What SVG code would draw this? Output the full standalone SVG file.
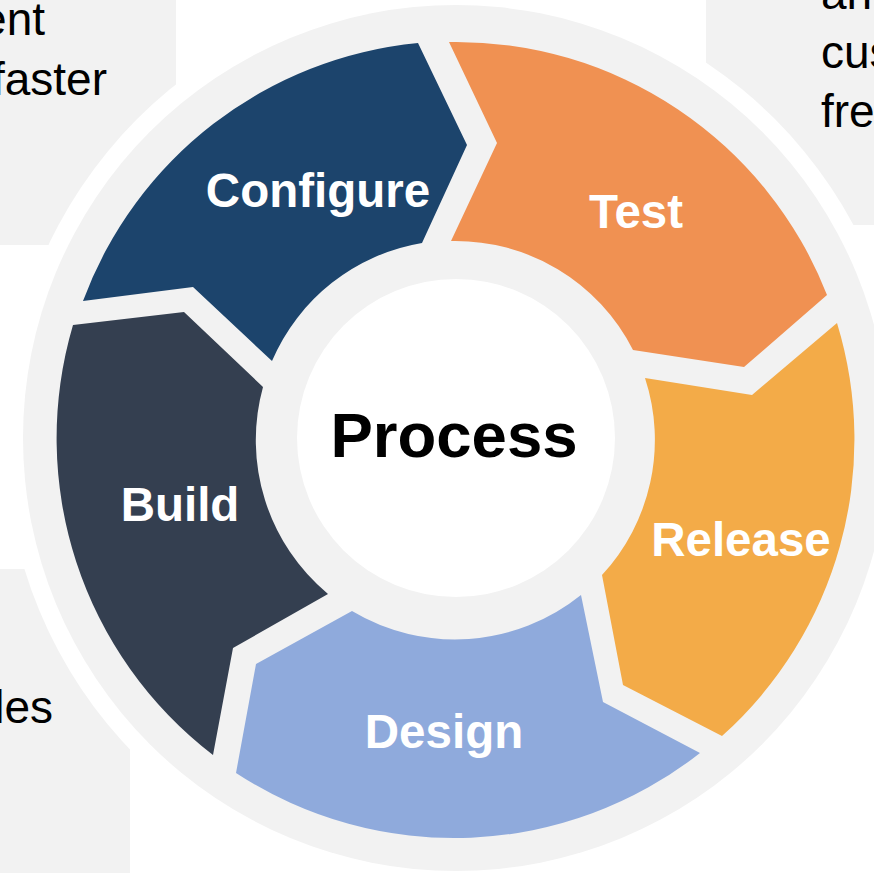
<svg xmlns="http://www.w3.org/2000/svg" width="874" height="873" viewBox="0 0 874 873">
  <style>
    .box { fill: #F2F2F2; }
    .side { font-family: "Liberation Sans", Arial, sans-serif; font-size: 46px; fill: #000000; }
    .lbl { font-family: "Liberation Sans", Arial, sans-serif; font-size: 47.5px; font-weight: bold; fill: #FFFFFF; text-anchor: middle; }
    .center { font-family: "Liberation Sans", Arial, sans-serif; font-size: 63.5px; font-weight: bold; fill: #000000; text-anchor: middle; }
  </style>
  <rect width="874" height="873" fill="#FFFFFF"/>
  <g id="side-boxes">
    <g id="box-top-left">
      <rect class="box" x="0" y="0" width="176" height="245"/>
      <text class="side" x="45" y="35" text-anchor="end">ent</text>
      <text class="side" x="107" y="95" text-anchor="end">faster</text>
    </g>
    <g id="box-top-right">
      <rect class="box" x="706" y="0" width="168" height="225"/>
      <text class="side" x="821" y="9">an</text>
      <text class="side" x="821" y="68">cus</text>
      <text class="side" x="821" y="127">fre</text>
    </g>
    <g id="box-bottom-left">
      <rect class="box" x="0" y="569" width="130" height="304"/>
      <text class="side" x="53" y="723" text-anchor="end">les</text>
    </g>
  </g>
  <g id="ring-base">
    <circle cx="456" cy="438" r="451" fill="#FFFFFF"/>
    <circle cx="456" cy="438" r="433" fill="#F2F2F2"/>
  </g>
  <g id="connectors"/>
  <g id="node-configure">
    <path fill="#1C446C" d="M83,301 A398,398 0 0 1 418,43 L467,145 L422,243 A199,199 0 0 0 272,361 L193,287 Z"/>
    <text class="lbl" x="318" y="207">Configure</text>
  </g>
  <g id="node-test">
    <path fill="#F09152" d="M449,42 A398,398 0 0 1 827,295 L744,367 L633,350 A199,199 0 0 0 451,241 L497,143 Z"/>
    <text class="lbl" x="636" y="228">Test</text>
  </g>
  <g id="node-release">
    <path fill="#F3AB48" d="M837,323 A398,398 0 0 1 722,736 L623,685 L602,575 A199,199 0 0 0 645,378 L752,395 Z"/>
    <text class="lbl" x="741" y="556">Release</text>
  </g>
  <g id="node-design">
    <path fill="#8FAADC" d="M700,753 A398,398 0 0 1 236,773 L256,664 L352,611 A201,201 0 0 0 581,595 L603,702 Z"/>
    <text class="lbl" x="444" y="748">Design</text>
  </g>
  <g id="node-build">
    <path fill="#343F50" d="M213,755 A399,399 0 0 1 73,325 L184,312 L263,387 A200,200 0 0 0 328,594 L233,648 Z"/>
    <text class="lbl" x="180" y="521">Build</text>
  </g>
  <g id="node-process">
    <circle cx="456" cy="438" r="159" fill="#FFFFFF"/>
    <text class="center" x="454" y="457">Process</text>
  </g>
</svg>
